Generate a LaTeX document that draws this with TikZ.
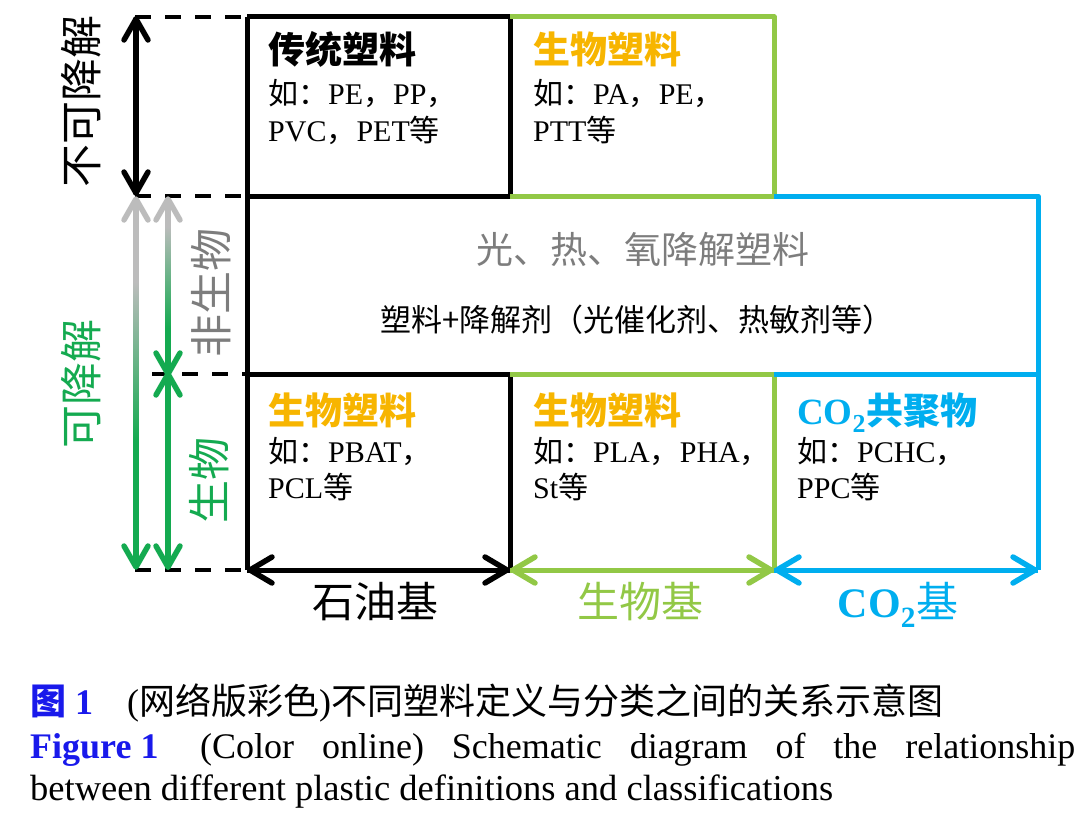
\documentclass[tikz,border=0pt]{standalone}
\usepackage{fontspec}
\setmainfont{Liberation Serif}
\newfontfamily\cjk{Noto Sans CJK SC}
\usetikzlibrary{arrows.meta,calc}
\definecolor{gold}{RGB}{247,181,0}
\definecolor{lime}{RGB}{146,200,70}
\definecolor{cyanb}{RGB}{0,174,239}
\definecolor{dgreen}{RGB}{20,170,80}
\definecolor{lgray}{RGB}{188,188,188}
\definecolor{tgray}{RGB}{125,125,125}
\definecolor{capblue}{RGB}{25,25,235}
\newcommand\zh[1]{{\cjk #1}}
\newcommand\fsz[1]{\fontsize{#1}{#1}\selectfont}
% arrow head: colour, tip, arm offset 1, arm offset 2
\newcommand\hd[4]{\draw[chev,#1] ($(#2)+(#3)$) -- (#2) -- ($(#2)+(#4)$);}
\pgfdeclareverticalshading{outerg}{100bp}{color(0bp)=(dgreen); color(25bp)=(dgreen); color(42bp)=(dgreen); color(64bp)=(lgray); color(75bp)=(lgray); color(100bp)=(lgray)}
\pgfdeclareverticalshading{innerg}{100bp}{color(0bp)=(dgreen); color(25bp)=(dgreen); color(38bp)=(dgreen); color(68bp)=(lgray); color(75bp)=(lgray); color(100bp)=(lgray)}
\begin{document}
\begin{tikzpicture}[x=1pt,y=-1pt,
  boxline/.style={line width=5pt, line join=round},
  blk/.style={boxline, black},
  grn/.style={boxline, lime},
  blu/.style={boxline, cyanb},
  dsh/.style={line width=4.5pt, black, dash pattern=on 16pt off 14pt},
  chev/.style={line width=5.5pt, line join=round, line cap=round},
  txt/.style={inner sep=0pt, anchor=base west},
  ttl/.style={txt, font=\cjk\bfseries\fsz{37}},
  subt/.style={txt, font=\fsz{30}},
  sidelab/.style={inner sep=0pt, rotate=90, font=\cjk\fsz{43}},
  axlab/.style={inner sep=0pt, anchor=base, font=\cjk\fsz{42}},
  captxt/.style={txt, font=\fsz{36}}
]
\useasboundingbox (0,0) rectangle (1080,816);
% grid points
\coordinate (A0) at (247,17);  \coordinate (B0) at (510,17);  \coordinate (C0) at (774,17);
\coordinate (A1) at (247,196); \coordinate (B1) at (510,196); \coordinate (C1) at (774,196); \coordinate (D1) at (1038,196);
\coordinate (A2) at (247,374); \coordinate (B2) at (510,374); \coordinate (C2) at (774,374); \coordinate (D2) at (1038,374);
\coordinate (A3) at (247,570); \coordinate (B3) at (510,570); \coordinate (C3) at (774,570); \coordinate (D3) at (1038,570);
% left helpers
\coordinate (L0) at (135,17); \coordinate (L1) at (135,196); \coordinate (L2) at (152,374); \coordinate (L3) at (135,570);
\coordinate (k0) at (136,19); \coordinate (k1) at (136,193);
\coordinate (o1) at (136,199); \coordinate (o3) at (136,567);
\coordinate (i1) at (168,199); \coordinate (i2) at (168,374); \coordinate (i3) at (168,567);
% bottom arrow tips
\coordinate (a3r) at (250,570); \coordinate (b3l) at (507,570); \coordinate (b3r) at (513,570);
\coordinate (c3l) at (771,570); \coordinate (c3r) at (777,570); \coordinate (d3l) at (1035,570);

% dashed guides
\draw[dsh] (L0) -- (A0);
\draw[dsh] (L1) -- (A1);
\draw[dsh] (L2) -- (A2);
\draw[dsh] (L3) -- (A3);

% boxes
\draw[blk] (A0) -- (B0) -- (B1) -- (A1);
\draw[blk] (A0) -- (A3);
\draw[blk] (A2) -- (B2) -- (B3);
\draw[grn] (B0) -- (C0) -- (C1) -- (B1);
\draw[grn] (B2) -- (C2) -- (C3);
\draw[blu] (C1) -- (D1) -- (D3);
\draw[blu] (C2) -- (D2);

% bottom arrows
\draw[blk] (A3) -- (B3);
\hd{black}{a3r}{22,-13}{22,13}
\hd{black}{b3l}{-22,-13}{-22,13}
\draw[grn] (B3) -- (C3);
\hd{lime}{b3r}{22,-13}{22,13}
\hd{lime}{c3l}{-22,-13}{-22,13}
\draw[blu] (C3) -- (D3);
\hd{cyanb}{c3r}{22,-13}{22,13}
\hd{cyanb}{d3l}{-22,-13}{-22,13}

% left arrows
\draw[chev, black] (k0) -- (k1);
\hd{black}{k0}{-12,21}{12,21}
\hd{black}{k1}{-12,-21}{12,-21}
\shade[shading=outerg] ($(o1)+(-2.5,4)$) rectangle ($(o3)+(2.5,-4)$);
\hd{lgray}{o1}{-12,21}{12,21}
\hd{dgreen}{o3}{-12,-21}{12,-21}
\shade[shading=innerg] ($(i1)+(-2.5,4)$) rectangle ($(i2)+(2.5,-2)$);
\hd{lgray}{i1}{-12,21}{12,21}
\hd{dgreen}{i2}{-12,-21}{12,-21}
\draw[chev, dgreen] (i2) -- (i3);
\hd{dgreen}{i2}{-12,21}{12,21}
\hd{dgreen}{i3}{-12,-21}{12,-21}

% side labels
\node[sidelab, black] (s1) at (81,101) {不可降解};
\node[sidelab, dgreen] (s2) at (81,384) {可降解};
\node[sidelab, tgray] (s3) at (211,293) {非生物};
\node[sidelab, dgreen] (s4) at (209,480) {生物};

% top-left cell
\node[ttl, black] (t1) at (268,64) {传统塑料};
\node[subt] (t1a) at (268,105) {\zh{如：}PE\zh{，}PP\zh{，}};
\node[subt] (t1b) at (268,141) {PVC\zh{，}PET\zh{等}};
% top-right cell
\node[ttl, gold] (t2) at (533,64) {生物塑料};
\node[subt] (t2a) at (533,105) {\zh{如：}PA\zh{，}PE\zh{，}};
\node[subt] (t2b) at (533,141) {PTT\zh{等}};
% middle
\node[inner sep=0pt, anchor=base, font=\cjk\fsz{37}, tgray] (m1) at (643,263) {光、热、氧降解塑料};
\node[inner sep=0pt, anchor=base, font=\cjk\fsz{31}] (m2) at (637,331) {塑料+降解剂（光催化剂、热敏剂等）};
% bottom cells
\node[ttl, gold] (b1) at (268,424) {生物塑料};
\node[subt] (b1a) at (268,462) {\zh{如：}PBAT\zh{，}};
\node[subt] (b1b) at (268,498) {PCL\zh{等}};
\node[ttl, gold] (b2) at (533,424) {生物塑料};
\node[subt] (b2a) at (533,462) {\zh{如：}PLA\zh{，}PHA\zh{，}};
\node[subt] (b2b) at (533,498) {St\zh{等}};
\node[txt, font=\bfseries\fsz{37}, cyanb] (b3) at (797,424) {CO\textsubscript{2}\zh{共聚物}};
\node[subt] (b3a) at (797,462) {\zh{如：}PCHC\zh{，}};
\node[subt] (b3b) at (797,498) {PPC\zh{等}};

% axis labels
\node[axlab, black] (x1) at (375,617) {石油基};
\node[axlab, lime] (x2) at (640,617) {生物基};
\node[inner sep=0pt, anchor=base, font=\fsz{42}, cyanb] (x3) at (898,617) {\textbf{CO\textsubscript{2}}\zh{基}};

% caption
\node[captxt, capblue] (c1a) at (30,714) {\bfseries\zh{图} 1};
\node[captxt] (c1b) at (127,714) {(\zh{网络版彩色})\zh{不同塑料定义与分类之间的关系示意图}};
\node[captxt, capblue] (c2a) at (30,758) {\bfseries Figure 1};
\node[captxt] (c2b) at (200,758) {\makebox[875pt][s]{(Color online) Schematic diagram of the relationship}};
\node[captxt, font=\fsz{36.5}] (c3) at (30,800) {between different plastic definitions and classifications};
\end{tikzpicture}
\end{document}
